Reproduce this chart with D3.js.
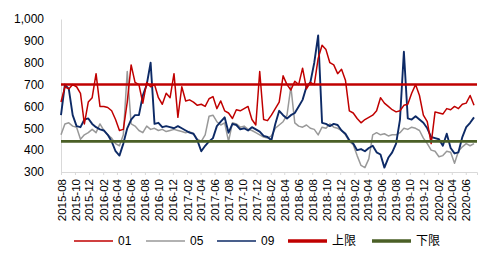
<!DOCTYPE html>
<html><head><meta charset="utf-8">
<script src="https://cdn.jsdelivr.net/npm/d3@7/dist/d3.min.js"></script>
<style>
html,body{margin:0;padding:0;background:#fff;}
svg{display:block;font-family:"Liberation Sans",Arial,sans-serif;}
</style></head>
<body><svg id="c" width="496" height="262"></svg>
<script>
// ---- data ----
const startDate = "2015-08-01";
const stepDays = 17;
const s01 = [620,690,680,700,690,660,520,620,640,750,600,600,595,580,540,490,495,620,790,710,
  700,615,710,690,700,640,610,660,640,750,550,690,625,630,620,605,610,600,635,645,
  590,625,580,570,545,585,580,590,600,540,515,760,540,535,560,590,620,740,700,675,
  715,700,775,680,710,700,820,880,860,800,790,750,770,720,580,570,545,525,540,550,
  560,580,640,615,600,585,575,580,605,610,660,700,650,560,530,430,575,570,565,590,
  585,600,590,610,615,650,605];
const s05 = [470,520,525,510,505,450,470,480,495,480,520,490,470,455,430,420,470,760,520,510,
  490,480,510,495,500,490,495,485,490,495,490,485,480,485,475,450,440,470,555,560,
  530,515,525,440,525,520,505,510,495,490,480,470,460,455,465,500,515,530,560,690,
  525,510,505,515,500,495,470,505,500,520,505,500,490,470,440,425,375,330,320,360,
  470,480,470,475,465,470,470,480,500,495,505,500,490,455,430,400,395,370,375,395,
  390,340,395,415,430,420,430];
const s09 = [560,700,680,560,510,505,540,545,520,505,495,490,470,440,395,375,430,500,540,560,
  560,650,700,800,520,525,505,510,505,500,510,500,490,480,475,445,395,420,440,455,
  510,530,550,480,520,515,495,500,490,505,495,485,465,460,445,520,580,560,545,560,
  570,600,630,690,710,800,925,525,520,510,520,515,490,475,445,430,400,405,395,410,
  420,390,380,320,365,390,430,540,850,545,540,555,540,525,500,460,455,450,420,475,
  410,385,390,460,505,525,550];
const upperLimit = 700;
const lowerLimit = 440;
const yTicks = [300,400,500,600,700,800,900,1000];
const tickMonths = ["2015-08","2015-10","2015-12","2016-02","2016-04","2016-06","2016-08","2016-10","2016-12",
  "2017-02","2017-04","2017-06","2017-08","2017-10","2017-12","2018-02","2018-04","2018-06","2018-08","2018-10","2018-12",
  "2019-02","2019-04","2019-06","2019-08","2019-10","2019-12","2020-02","2020-04","2020-06"];
const legendItems = [
  {name:"01", color:"#c00000", w:1.3},
  {name:"05", color:"#999999", w:1.3},
  {name:"09", color:"#0d2a66", w:1.3},
  {name:"上限", color:"#c00000", w:3.5},
  {name:"下限", color:"#4a5f26", w:3.5}
];

// ---- build ----
const parse = d3.timeParse("%Y-%m-%d");
const t0 = parse(startDate);
const dates = s01.map((_, i) => d3.timeDay.offset(t0, i * stepDays));
const svg = d3.select("#c");
const M = {left:61, right:477, top:19, bottom:172};
const x = d3.scaleTime().domain([t0, parse("2020-07-20")]).range([M.left, M.right]);
const y = d3.scaleLinear().domain([300,1000]).range([M.bottom, M.top]);

// axes
const yAxis = svg.append("g").attr("transform", `translate(${M.left},0)`)
  .call(d3.axisLeft(y).tickValues(yTicks).tickSize(0).tickPadding(17).tickFormat(d3.format(",")));
yAxis.select(".domain").attr("stroke","#d9d9d9");
yAxis.selectAll("text").attr("font-size","12px").attr("fill","#000");

const tickDates = tickMonths.map(m => parse(m + "-01"));
const xAxis = svg.append("g").attr("transform", `translate(0,${M.bottom})`)
  .call(d3.axisBottom(x).tickValues(tickDates).tickSize(3).tickFormat(d3.timeFormat("%Y-%m")));
xAxis.select(".domain").attr("stroke","#d9d9d9");
xAxis.selectAll(".tick line").attr("stroke","#d9d9d9");
xAxis.selectAll("text").attr("font-size","11.5px").attr("fill","#000")
  .attr("transform","rotate(-90)").attr("text-anchor","end")
  .attr("x",-7).attr("y",0).attr("dy","0.35em");

// series
const line = d3.line().x((d,i) => x(dates[i])).y(d => y(d));
const series = [
  {data:s05, color:"#999999", w:1.5},
  {data:s09, color:"#0d2a66", w:1.9},
  {data:s01, color:"#c00000", w:1.5}
];
series.forEach(s => svg.append("path").datum(s.data).attr("d", line)
  .attr("fill","none").attr("stroke", s.color).attr("stroke-width", s.w).attr("stroke-linejoin","round"));

// limits
svg.append("line").attr("x1",x(t0)).attr("x2",M.right).attr("y1",y(upperLimit)).attr("y2",y(upperLimit))
  .attr("stroke","#c00000").attr("stroke-width",2.6);
svg.append("line").attr("x1",x(t0)).attr("x2",M.right).attr("y1",y(lowerLimit)).attr("y2",y(lowerLimit))
  .attr("stroke","#4a5f26").attr("stroke-width",2.6);

// legend
const legX = [74, 146, 217, 288, 372];
const lg = svg.append("g");
legendItems.forEach((it, i) => {
  const g = lg.append("g").attr("transform", `translate(${legX[i]},241)`);
  g.append("line").attr("x1",0).attr("x2",39).attr("stroke",it.color).attr("stroke-width",it.w);
  g.append("text").attr("x",44).attr("y",0).attr("dy","0.35em").attr("font-size","12px")
    .attr("font-family", i >= 3 ? "'Noto Sans CJK SC',sans-serif" : null)
    .attr("fill","#000").text(it.name);
});
</script></body></html>
